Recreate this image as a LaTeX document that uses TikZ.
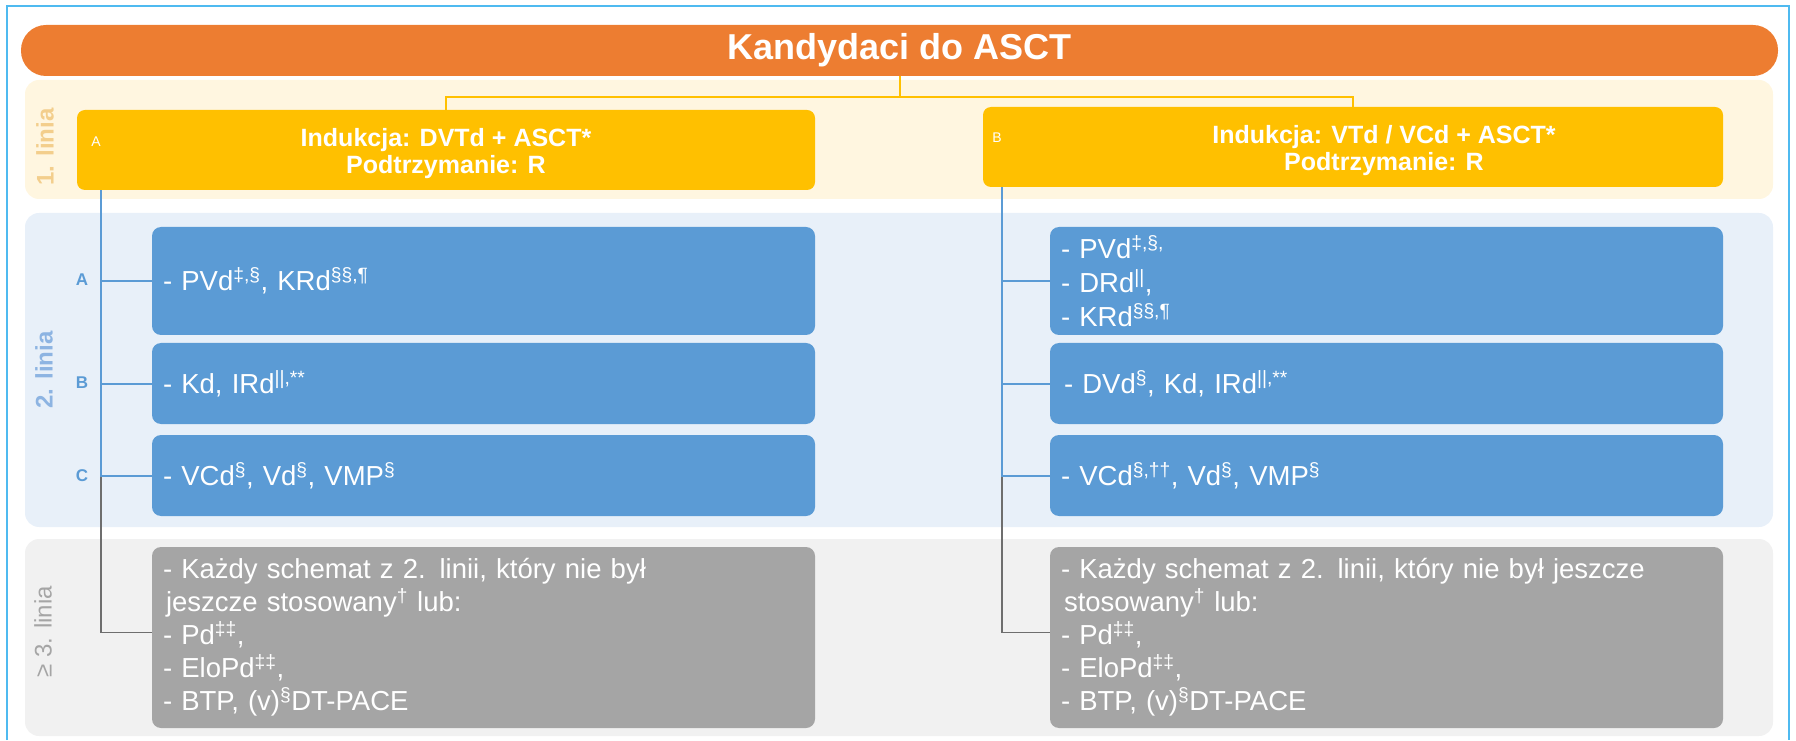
\documentclass[tikz,border=0pt]{standalone}
\usepackage{fontspec}
\setmainfont{Liberation Sans}
\usepackage{xcolor}
\usepackage{tikz}
\usetikzlibrary{positioning, calc}
\definecolor{ASCTOrange}{RGB}{237,125,49}
\definecolor{ASCTYellow}{RGB}{255,192,0}
\definecolor{ASCTBlue}{RGB}{91,155,213}
\definecolor{ASCTGrey}{RGB}{165,165,165}
\definecolor{ASCTFrame}{RGB}{79,186,240}
\definecolor{ASCTBandY}{RGB}{255,246,224}
\definecolor{ASCTBandB}{RGB}{232,240,249}
\definecolor{ASCTBandG}{RGB}{241,241,241}
\definecolor{ASCTTan}{RGB}{243,206,140}
\definecolor{ASCTSky}{RGB}{141,180,226}
\definecolor{ASCTLink}{RGB}{110,110,110}

\tikzset{
  titlebar/.style={fill=ASCTOrange, text=white, rounded corners=25pt, minimum width=1757pt,
    minimum height=51pt, font=\fontsize{36}{40}\selectfont\bfseries},
  firstbox/.style={fill=ASCTYellow, rounded corners=8pt, minimum height=80pt},
  firsttext/.style={text=white, align=center, font=\fontsize{25}{27}\selectfont\bfseries},
  secondbox/.style={fill=ASCTBlue, text=white, rounded corners=9pt, align=left,
    inner xsep=11pt, font=\fontsize{27.5}{34}\selectfont},
  thirdbox/.style={fill=ASCTGrey, text=white, rounded corners=9pt, align=left,
    inner xsep=11pt, minimum height=181pt, font=\fontsize{27.5}{33}\selectfont},
  boxlabel/.style={text=white, font=\fontsize{14}{16}\selectfont},
  rowlabel/.style={text=ASCTBlue, font=\fontsize{17}{19}\selectfont\bfseries},
  linelabel/.style={rotate=90, font=\fontsize{24}{26}\selectfont\bfseries},
  stem/.style={ASCTYellow, line width=2pt},
  branch/.style={ASCTBlue, line width=2pt},
  graylink/.style={ASCTLink, line width=1.6pt}
}

\begin{document}
\begin{tikzpicture}[x=1pt,y=1pt]
  \path[use as bounding box] (0,0) rectangle (1796,740);
  \draw[ASCTFrame, line width=2pt] (7,0) -- (7,734) -- (1789,734) -- (1789,0);
  \fill[ASCTBandY, rounded corners=14pt] (25,541) rectangle (1773,660);
  \fill[ASCTBandB, rounded corners=14pt] (25,213) rectangle (1773,527);
  \fill[ASCTBandG, rounded corners=14pt] (25,4) rectangle (1773,201);

  \node[linelabel, text=ASCTTan] (line1) at (45,593) {1. linia};
  \node[linelabel, text=ASCTSky] (line2) at (44,370) {2. linia};
  \node[linelabel, text=ASCTGrey, font=\fontsize{24}{26}\selectfont] (line3) at (43,108) {≥ 3. linia};

  \node[titlebar] (title) at (899.5,689.5) {Kandydaci do ASCT};

  \node[firstbox, minimum width=738pt] (indA) at (446,590) {};
  \node[firstbox, minimum width=740pt] (indB) at (1353,593) {};
  \node[boxlabel] (indAlbl) at (96,598) {A};
  \node[boxlabel] (indBlbl) at (997,602) {B};
  \node[firsttext] (indAtxt) at ([yshift=-4pt]indA.center) {Indukcja: DVTd + ASCT*\\Podtrzymanie: R};
  \node[firsttext] (indBtxt) at ([xshift=31pt,yshift=-4pt]indB.center) {Indukcja: VTd / VCd + ASCT*\\Podtrzymanie: R};

  \node[rowlabel] (rowA) at (82,460) {A};
  \node[rowlabel] (rowB) at (82,357) {B};
  \node[rowlabel] (rowC) at (82,264) {C};

  \node[secondbox, text width=641pt, minimum height=108pt] (l2a) at (483.5,459)
    {- PVd\textsuperscript{‡,§}, KRd\textsuperscript{§§,¶}};
  \node[secondbox, text width=641pt, minimum height=81pt] (l2b) at (483.5,356.5)
    {- Kd, IRd\textsuperscript{||,**}};
  \node[secondbox, text width=641pt, minimum height=81pt] (l2c) at (483.5,264.5)
    {- VCd\textsuperscript{§}, Vd\textsuperscript{§}, VMP\textsuperscript{§}};
  \node[secondbox, text width=651pt, minimum height=108pt] (l2d) at (1386.5,459)
    {- PVd\textsuperscript{‡,§,}\\- DRd\textsuperscript{||},\\- KRd\textsuperscript{§§,¶}};
  \node[secondbox, text width=651pt, minimum height=81pt] (l2e) at (1386.5,356.5)
    {\hspace*{3pt}- DVd\textsuperscript{§}, Kd, IRd\textsuperscript{||,**}};
  \node[secondbox, text width=651pt, minimum height=81pt] (l2f) at (1386.5,264.5)
    {- VCd\textsuperscript{§,††}, Vd\textsuperscript{§}, VMP\textsuperscript{§}};

  \node[thirdbox, text width=641pt] (l3a) at (483.5,102.5)
    {- Każdy schemat z 2. linii, który nie był\\\hspace*{3pt}jeszcze stosowany\textsuperscript{†} lub:\\
     - Pd\textsuperscript{‡‡},\\- EloPd\textsuperscript{‡‡},\\- BTP, (v)\textsuperscript{§}DT-PACE};
  \node[thirdbox, text width=651pt] (l3b) at (1386.5,102.5)
    {- Każdy schemat z 2. linii, który nie był jeszcze\\\hspace*{3pt}stosowany\textsuperscript{†} lub:\\
     - Pd\textsuperscript{‡‡},\\- EloPd\textsuperscript{‡‡},\\- BTP, (v)\textsuperscript{§}DT-PACE};

  \draw[stem] (title.south) -- ++(0,-21) coordinate (split);
  \draw[stem] (split) -| (indA.north);
  \draw[stem] (split) -| (indB.north);

  \coordinate (trunkA) at ([xshift=24pt]indA.south west);
  \coordinate (trunkB) at ([xshift=19pt]indB.south west);
  \foreach \t/\a/\b/\c/\g in {trunkA/l2a/l2b/l2c/l3a, trunkB/l2d/l2e/l2f/l3b}{
    \draw[graylink] (\t |- \b.south) |- ([yshift=5pt]\g.west);
    \draw[branch] (\t) |- (\a.west);
    \draw[branch] (\t) |- (\b.west);
    \draw[branch] (\t) |- (\c.west);
  }
\end{tikzpicture}
\end{document}
